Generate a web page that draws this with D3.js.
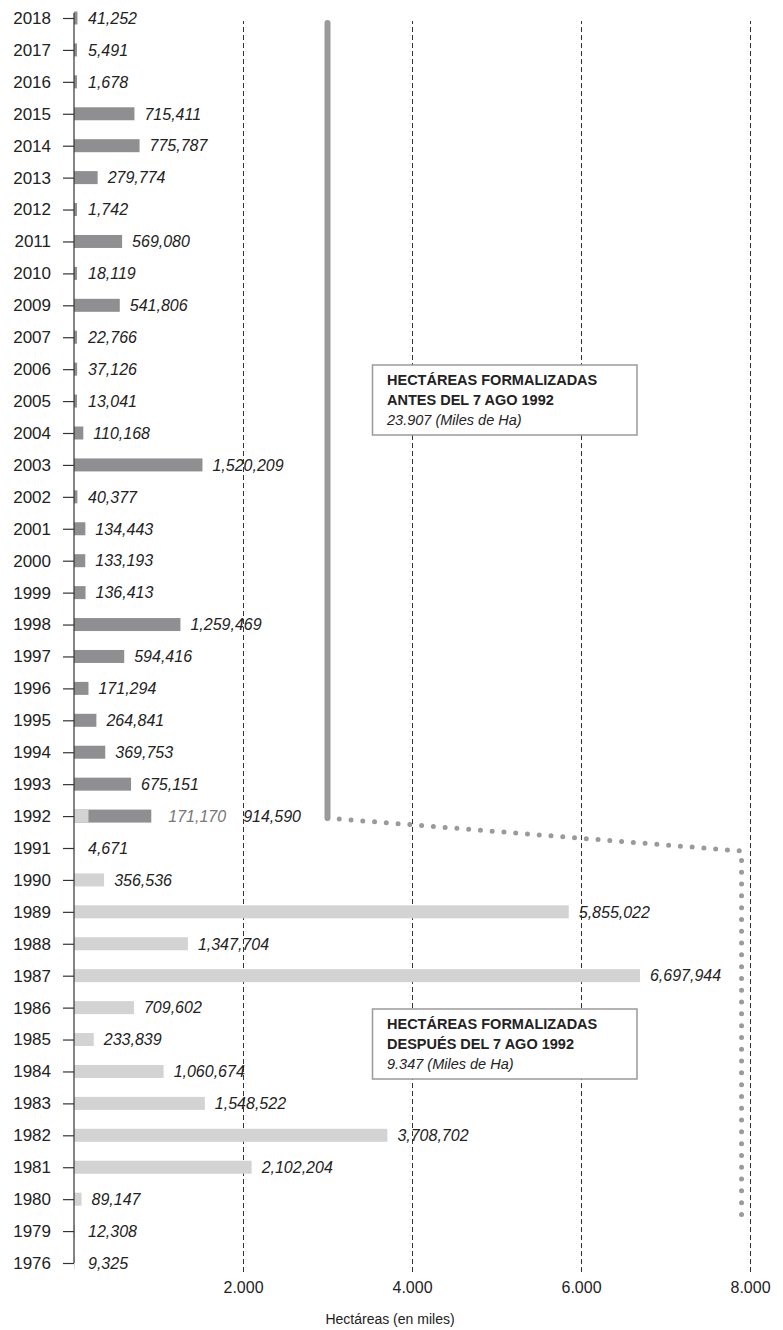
<!DOCTYPE html>
<html><head><meta charset="utf-8">
<script src="https://cdn.jsdelivr.net/npm/d3@7"></script>
<style>
body{margin:0;background:#fff}
svg{display:block;font-family:"Liberation Sans",Arial,sans-serif}
</style>
</head><body>
<svg id="c" width="783" height="1330"></svg>
<script>
// ---- data ----
const years = ["2018","2017","2016","2015","2014","2013","2012","2011","2010","2009","2007","2006","2005","2004","2003","2002","2001","2000","1999","1998","1997","1996","1995","1994","1993","1992","1991","1990","1989","1988","1987","1986","1985","1984","1983","1982","1981","1980","1979","1976"];
// hectares, dark series
const darkValues = [41252,5491,1678,715411,775787,279774,1742,569080,18119,541806,22766,37126,13041,110168,1520209,40377,134443,133193,136413,1259469,594416,171294,264841,369753,675151,914590,null,null,null,null,null,null,null,null,null,null,null,null,null,null];
// hectares, light series
const lightValues = [null,null,null,null,null,null,null,null,null,null,null,null,null,null,null,null,null,null,null,null,null,null,null,null,null,171170,4671,356536,5855022,1347704,6697944,709602,233839,1060674,1548522,3708702,2102204,89147,12308,9325];
const xTicks = [2000,4000,6000,8000];
const xTickLabels = ["2.000","4.000","6.000","8.000"];
const axisTitle = "Hectáreas (en miles)";
const box1Lines = ["HECTÁREAS FORMALIZADAS","ANTES DEL 7 AGO 1992","23.907 (Miles de Ha)"];
const box2Lines = ["HECTÁREAS FORMALIZADAS","DESPUÉS DEL 7 AGO 1992","9.347 (Miles de Ha)"];
const bracketValues = [3000, 7900]; // thousands of ha where connector lines sit

// ---- layout ----
const svg = d3.select("#c");
const x = d3.scaleLinear().domain([0,8000]).range([74,750]);
const y = d3.scalePoint().domain(years).range([18,1263]);
const gridBottom = 1272, gridTop = 21;
const barH = 13;
const dark = "#8f8f91", light = "#d3d3d3", ink = "#222";
const fmt = d3.format(",");
const k = v => v/1000;

// gridlines + x tick labels
const gx = svg.append("g").attr("transform",`translate(0,${gridBottom})`)
  .call(d3.axisBottom(x).tickValues(xTicks).tickSize(-(gridBottom-gridTop)).tickPadding(10)
    .tickFormat((d,i)=>xTickLabels[i]));
gx.select(".domain").remove();
gx.selectAll(".tick line").attr("stroke","#333").attr("stroke-dasharray","5,3").attr("stroke-width",1);
gx.selectAll(".tick text").attr("fill",ink).style("font-size","16px").style("font-family","'Liberation Sans',Arial,sans-serif");

svg.append("text").attr("x",390).attr("y",1324).attr("text-anchor","middle")
  .attr("fill",ink).style("font-size","14px").text(axisTitle);

// annotation boxes (drawn over gridlines)
function box(top, lines){
  const g = svg.append("g");
  g.append("rect").attr("x",372.5).attr("y",top).attr("width",264.5).attr("height",70)
    .attr("fill","#fff").attr("stroke","#9a9a9a").attr("stroke-width",1.5);
  lines.forEach((t,i)=>{
    g.append("text").attr("x",387).attr("y",top+20+i*20).attr("fill",ink)
      .style("font-size","14.5px").style("font-weight",i<2?"bold":"normal")
      .style("font-style",i<2?"normal":"italic").text(t);
  });
}
box(365, box1Lines);
box(1009, box2Lines);

// bars
const rows = years.map((yr,i)=>({yr, d:darkValues[i], l:lightValues[i]}));
svg.append("g").selectAll("rect").data(rows.filter(r=>r.d!=null)).join("rect")
  .attr("x",x(0)).attr("y",r=>y(r.yr)-barH/2).attr("height",barH)
  .attr("width",r=>Math.max(x(k(r.d))-x(0),3)).attr("fill",dark);
svg.append("g").selectAll("rect").data(rows.filter(r=>r.l!=null)).join("rect")
  .attr("x",x(0)).attr("y",r=>y(r.yr)-barH/2).attr("height",barH)
  .attr("width",r=>x(k(r.l))-x(0)).attr("fill",light);

// y axis
const gy = svg.append("g").attr("transform",`translate(${x(0)},0)`)
  .call(d3.axisLeft(y).tickSize(11).tickPadding(12).tickSizeOuter(0));
gy.select(".domain").remove();
gy.selectAll(".tick line").attr("stroke","#333").attr("stroke-width",1.2);
gy.selectAll(".tick text").attr("fill",ink).style("font-size","17px").style("font-family","'Liberation Sans',Arial,sans-serif");
svg.append("line").attr("x1",x(0)).attr("x2",x(0)).attr("y1",y(years[0])-5).attr("y2",y(years[years.length-1]))
  .attr("stroke","#333").attr("stroke-width",1.2);

// value labels
const lab = svg.append("g").style("font-size","16px").style("font-style","italic");
rows.forEach(r=>{
  const cy = y(r.yr);
  if(r.d!=null && r.l!=null){
    const t1 = lab.append("text").attr("x",x(k(r.d))+17).attr("y",cy).attr("dy","0.36em")
      .attr("fill","#777").text(fmt(r.l));
    const w = t1.node().getComputedTextLength();
    lab.append("text").attr("x",x(k(r.d))+17+w+17).attr("y",cy).attr("dy","0.36em")
      .attr("fill",ink).text(fmt(r.d));
  } else {
    const v = r.d!=null ? r.d : r.l;
    lab.append("text").attr("x",Math.max(x(k(v)),x(0)+4)+10).attr("y",cy).attr("dy","0.36em")
      .attr("fill",ink).text(fmt(v));
  }
});

// connector: thick line + dotted line
const xa = x(bracketValues[0]), xb = x(bracketValues[1]);
svg.append("line").attr("x1",xa).attr("x2",xa).attr("y1",y(years[0])+5).attr("y2",y("1992")+2)
  .attr("stroke","#9a9a9c").attr("stroke-width",6).attr("stroke-linecap","round");
svg.append("path")
  .attr("d",`M${xa},${y("1992")+2}L${xb},${y("1991")+3}L${xb},${y("1979")-6}`)
  .attr("fill","none").attr("stroke","#9a9a9c").attr("stroke-width",5)
  .attr("stroke-linecap","round").attr("stroke-dasharray","0,11.8");
</script>
</body></html>
